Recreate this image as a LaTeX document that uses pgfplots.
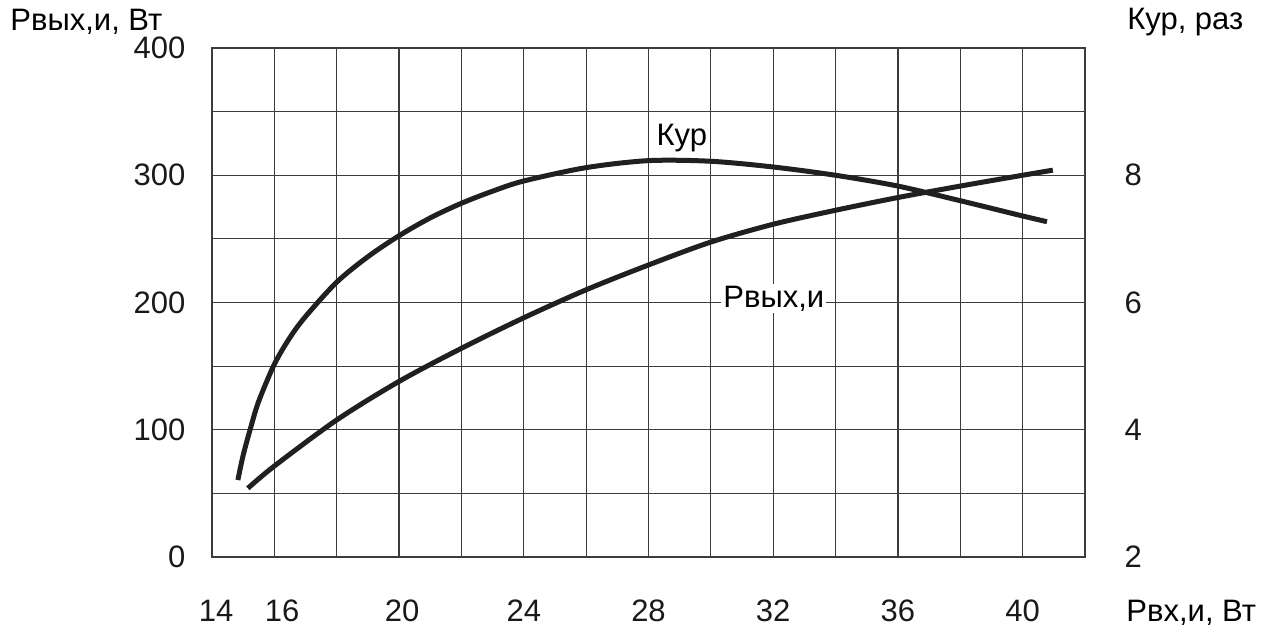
\documentclass[border=0pt]{standalone}
\usepackage{fontspec}
\setmainfont{Liberation Sans}
\usepackage{pgfplots}
\pgfplotsset{compat=1.18}
\definecolor{curve}{RGB}{35,31,32}
\definecolor{gridc}{RGB}{60,60,60}
\newcommand{\lf}{\fontsize{15.5}{18}\selectfont}
\begin{document}
\begin{tikzpicture}
\pgfplotsset{every axis/.append style={
  width=436.5pt,height=254.5pt,scale only axis,
  xmin=14,xmax=42,
  tick style={draw=none},
  /pgf/number format/assume math mode=true,
  tick label style={font=\lf, text=black!90},
  axis line style={line width=0.7pt,draw=gridc},
}}
\begin{axis}[
  ymin=0,ymax=400,
  xtick={14.13,16.25,20.1,24,28,32,36,40},
  xticklabels={14,16,20,24,28,32,36,40},
  minor xtick={14,16,...,42},
  ytick={0,100,...,400},
  minor ytick={50,150,...,350},
  xmajorgrids=false, xminorgrids=true, yminorgrids=true, ymajorgrids=true,
  major grid style={line width=0.6pt, draw=gridc},
  minor grid style={line width=0.6pt, draw=gridc},
  xticklabel style={yshift=-18pt},
  yticklabel style={xshift=-9.8pt},
  clip=false,
]
\addplot[line width=2.5pt, smooth, color=curve] coordinates {
(15.15,54) (16,71.5) (18,107.7) (20,138) (22,164) (24,188) (26,210)
(28,229.5) (30,247.5) (32,261.5) (34,272.5) (36,282.5) (38,291.5)
(40,300) (40.97,304)
};
\node[fill=white,inner sep=1pt,font=\lf] at (axis cs:32.02,203) {Рвых,и};
\node[inner sep=0pt,font=\lf] at (axis cs:29.07,329) {Кур};
\node[anchor=west,inner sep=0pt,font=\lf] at (rel axis cs:-0.2314,1.051) {Рвых,и, Вт};
\node[anchor=west,inner sep=0pt,font=\lf] at (rel axis cs:1.048,1.051) {Кур, раз};
\node[anchor=west,inner sep=0pt,font=\lf] at (rel axis cs:1.047,-0.110) {Рвх,и, Вт};
\end{axis}
\begin{axis}[
  ymin=2,ymax=10,
  axis y line*=right,
  hide x axis,
  ytick={2,4,6,8},
  yticklabel style={xshift=16.3pt},
  clip=false,
]
\addplot[line width=2.5pt, smooth, color=curve] coordinates {
(14.83,3.21) (15.0,3.6) (15.25,4.05) (15.5,4.45) (16,5.03) (16.5,5.45)
(17,5.78) (18,6.32) (19,6.72) (20,7.05) (21,7.33) (22,7.56) (23,7.75)
(24,7.91) (26,8.12) (28,8.23) (30,8.22) (32,8.13) (34,8.00) (36,7.83)
(38,7.60) (40,7.36) (40.78,7.27)
};
\end{axis}
\pgfresetboundingbox
\path[use as bounding box] (current axis.south west) ++(-106pt,-36pt) rectangle ++(631.5pt,314.5pt);
\end{tikzpicture}
\end{document}
